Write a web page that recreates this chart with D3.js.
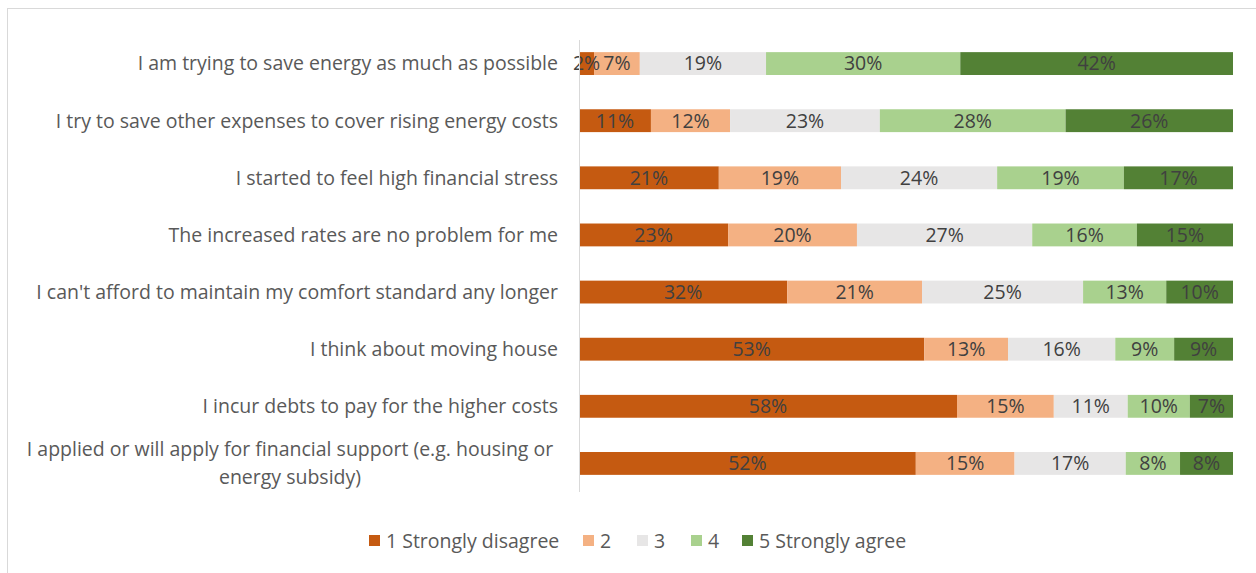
<!DOCTYPE html>
<html lang="en">
<head>
<meta charset="UTF-8">
<title>energy costs</title>
<script src="https://d3js.org/d3.v7.min.js"></script>
<style>
    body { margin: 0; background: #fff; }
    svg text { font-family: "Open Sans", Lato, sans-serif; }
</style>
</head>
<body>
<script>
// statements, top to bottom
var statements = [
    "I am trying to save energy as much as possible",
    "I try to save other expenses to cover rising energy costs",
    "I started to feel high financial stress",
    "The increased rates are no problem for me",
    "I can't afford to maintain my comfort standard any longer",
    "I think about moving house",
    "I incur debts to pay for the higher costs",
    "I applied or will apply for financial support (e.g. housing or energy subsidy)"
];

// answer shares per scale point (percent, labels are rounded)
var answers = ["1 Strongly disagree", "2", "3", "4", "5 Strongly agree"];
var disagree1 = [2.3, 11.0, 21.4, 22.8, 31.8, 52.8, 57.8, 51.5];
var answer2   = [7.0, 12.1, 18.7, 19.7, 20.6, 12.8, 14.8, 15.1];
var answer3   = [19.3, 22.9, 23.9, 26.8, 24.6, 16.4, 11.3, 17.0];
var answer4   = [29.7, 28.4, 19.4, 16.0, 12.7, 9.0, 9.5, 8.3];
var agree5    = [41.7, 25.6, 16.7, 14.7, 10.2, 9.0, 6.6, 8.1];

var colors = ["#C55A11", "#F4B183", "#E7E6E6", "#A9D18E", "#538135"];

var width = 1256, height = 573;
var margin = {top: 35, left: 579, right: 23, bottom: 81};
var textSize = "19.5px", valueSize = "19.5px";

var rows = statements.map(function (s, i) {
    return {name: s, a0: disagree1[i], a1: answer2[i], a2: answer3[i], a3: answer4[i], a4: agree5[i]};
});
var keys = ["a0", "a1", "a2", "a3", "a4"];

var series = d3.stack()
    .keys(keys)
    .offset(d3.stackOffsetExpand)(rows);

var svg = d3.select("body").append("svg")
    .attr("width", width)
    .attr("height", height);

// chart frame
svg.append("rect")
    .attr("x", 7.5).attr("y", 8.5)
    .attr("width", width + 20).attr("height", height + 20)
    .attr("fill", "none")
    .attr("stroke", "#d9d9d9");

var x = d3.scaleLinear()
    .domain([0, 1])
    .range([margin.left, width - margin.right]);

var y = d3.scaleBand()
    .domain(statements)
    .range([margin.top, height - margin.bottom])
    .paddingInner(0.6)
    .paddingOuter(0.3);

var g = svg.append("g");

g.selectAll("g.layer")
    .data(series)
    .enter().append("g")
    .attr("class", "layer")
    .attr("fill", function (d, i) { return colors[i]; })
    .selectAll("rect")
    .data(function (d) { return d; })
    .enter().append("rect")
    .attr("x", function (d) { return x(d[0]); })
    .attr("y", function (d) { return y(d.data.name); })
    .attr("width", function (d) { return x(d[1]) - x(d[0]); })
    .attr("height", y.bandwidth());

// value labels
series.forEach(function (layer) {
    g.selectAll(null)
        .data(layer)
        .enter().append("text")
        .attr("x", function (d) { return (x(d[0]) + x(d[1])) / 2; })
        .attr("y", function (d) { return y(d.data.name) + y.bandwidth() / 2; })
        .attr("dy", "0.35em")
        .attr("text-anchor", "middle")
        .attr("font-size", valueSize)
        .attr("fill", "#404040")
        .text(function (d) { return Math.round(d.data[layer.key]) + "%"; });
});

// vertical axis line
svg.append("line")
    .attr("x1", margin.left + 0.5).attr("x2", margin.left + 0.5)
    .attr("y1", margin.top + 5).attr("y2", height - margin.bottom)
    .attr("stroke", "#d9d9d9");

// category labels (last one wraps over two lines)
var cat = svg.append("g");
statements.forEach(function (s, i) {
    var cy = y(s) + y.bandwidth() / 2;
    if (i === statements.length - 1) {
        var t = cat.append("text")
            .attr("text-anchor", "middle")
            .attr("font-size", textSize)
            .attr("fill", "#595959");
        t.append("tspan").attr("x", 290).attr("y", cy - 14).attr("dy", "0.35em")
            .text("I applied or will apply for financial support (e.g. housing or");
        t.append("tspan").attr("x", 290).attr("y", cy + 14).attr("dy", "0.35em")
            .text("energy subsidy)");
    } else {
        cat.append("text")
            .attr("x", margin.left - 21)
            .attr("y", cy)
            .attr("dy", "0.35em")
            .attr("text-anchor", "end")
            .attr("font-size", textSize)
            .attr("fill", "#595959")
            .text(s);
    }
});

// legend
var legendX = [369, 583, 637, 691, 742];
var legend = svg.append("g");
answers.forEach(function (a, i) {
    legend.append("rect")
        .attr("x", legendX[i]).attr("y", 535)
        .attr("width", 11).attr("height", 11)
        .attr("fill", colors[i]);
    legend.append("text")
        .attr("x", legendX[i] + 17).attr("y", 541)
        .attr("dy", "0.35em")
        .attr("font-size", textSize)
        .attr("fill", "#595959")
        .text(a);
});
</script>
</body>
</html>
